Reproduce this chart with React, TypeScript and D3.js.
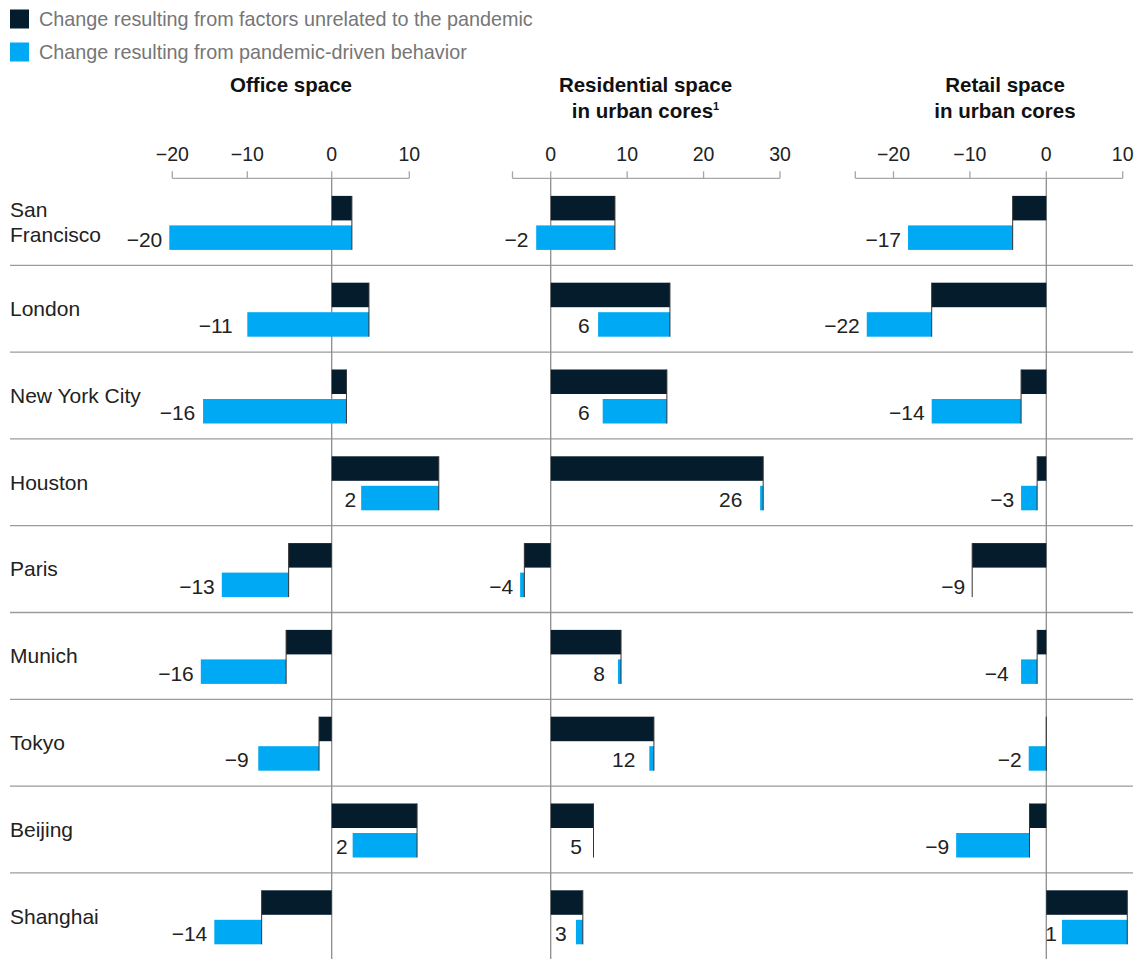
import React from "react";
import * as d3 from "d3";

// ---------- data ----------
const cities = [
  "San Francisco",
  "London",
  "New York City",
  "Houston",
  "Paris",
  "Munich",
  "Tokyo",
  "Beijing",
  "Shanghai",
];
const cityLines = [["San", "Francisco"], ["London"], ["New York City"], ["Houston"], ["Paris"], ["Munich"], ["Tokyo"], ["Beijing"], ["Shanghai"]];

const legendLabels = [
  "Change resulting from factors unrelated to the pandemic",
  "Change resulting from pandemic-driven behavior",
];

// Office space
const officeUnrelated = [2.6, 4.8, 1.9, 13.8, -5.1, -5.4, -1.5, 11.0, -8.3];
const officePandemic = [-23.0, -14.8, -17.8, -10.0, -8.3, -10.8, -7.2, -8.3, -6.1];
const officeLabels = [-20, -11, -16, 2, -13, -16, -9, 2, -14];
const officeTicks = [-20, -10, 0, 10];

// Residential space in urban cores
const residentialUnrelated = [8.4, 15.6, 15.2, 27.8, -3.45, 9.2, 13.5, 5.6, 4.2];
const residentialPandemic = [-10.3, -9.4, -8.4, -0.4, -0.55, -0.4, -0.6, 0, -0.9];
const residentialLabels = [-2, 6, 6, 26, -4, 8, 12, 5, 3];
const residentialTicks = [0, 10, 20, 30];

// Retail space in urban cores
const retailUnrelated = [-4.4, -15.0, -3.3, -1.2, -9.7, -1.2, 0, -2.2, 10.6];
const retailPandemic = [-13.7, -8.5, -11.7, -2.1, 0, -2.1, -2.3, -9.6, -8.55];
const retailLabels = [-17, -22, -14, -3, -9, -4, -2, -9, 1];
const retailTicks = [-20, -10, 0, 10];

// ---------- style ----------
const NAVY = "#051c2c";
const BLUE = "#00a9f4";
const FONT = "'Liberation Sans', Arial, sans-serif";
const W = 1147;
const H = 959;
const LABEL_SIZE = 21;

const fmt = (v: number) => (v < 0 ? "\u2212" + Math.abs(v) : String(v));
const textW = (s: string) => s.length * LABEL_SIZE * 0.556;

type Panel = {
  key: string;
  title: string[];
  sup?: boolean;
  titleX: number;
  scale: d3.ScaleLinear<number, number>;
  ticks: number[];
  unrelated: number[];
  pandemic: number[];
  labels: number[];
};

export default function App() {
  const axisY = 178.3;
  const y = d3
    .scaleBand<string>()
    .domain(cities)
    .range([178.5, 178.5 + 86.8 * cities.length])
    .paddingInner(0)
    .paddingOuter(0);
  const step = y.step();
  const barH = 24.5;
  const gap = 5;
  const off = (step - (barH * 2 + gap)) / 2 + 1;

  const panels: Panel[] = [
    {
      key: "office",
      title: ["Office space"],
      titleX: 291,
      scale: d3.scaleLinear().domain([-20, -10, 0, 10]).range([172.3, 247.3, 331.7, 409.3]),
      ticks: officeTicks,
      unrelated: officeUnrelated,
      pandemic: officePandemic,
      labels: officeLabels,
    },
    {
      key: "residential",
      title: ["Residential space", "in urban cores"],
      sup: true,
      titleX: 645.5,
      scale: d3.scaleLinear().domain([-5, 30]).range([512.5, 780]),
      ticks: residentialTicks,
      unrelated: residentialUnrelated,
      pandemic: residentialPandemic,
      labels: residentialLabels,
    },
    {
      key: "retail",
      title: ["Retail space", "in urban cores"],
      titleX: 1005,
      scale: d3.scaleLinear().domain([-25, 10]).range([855.3, 1122.7]),
      ticks: retailTicks,
      unrelated: retailUnrelated,
      pandemic: retailPandemic,
      labels: retailLabels,
    },
  ];

  return (
    <svg
      width={W}
      height={H}
      style={{ position: "absolute", left: 0, top: 0, background: "#fff" }}
      fontFamily={FONT}
    >
      {/* legend */}
      {legendLabels.map((t, i) => (
        <g key={t}>
          <rect x={10} y={9.5 + i * 33} width={19} height={19} fill={i === 0 ? NAVY : BLUE} />
          <text x={39} y={19 + i * 33} dy="0.35em" fontSize={19.8} fill="#767676">
            {t}
          </text>
        </g>
      ))}

      {/* row separators */}
      {cities.slice(1).map((c) => (
        <line key={c} x1={10} x2={1133} y1={y(c)!} y2={y(c)!} stroke="#9b9b9b" strokeWidth={1.3} />
      ))}

      {/* city labels */}
      {cities.map((c, i) => {
        const cy = y(c)! + step / 2;
        const lines = cityLines[i];
        return (
          <text key={c} x={10} fontSize={21} fill="#222">
            {lines.map((ln, j) => (
              <tspan key={j} x={10} y={cy + (j - (lines.length - 1) / 2) * 25} dy="0.35em">
                {ln}
              </tspan>
            ))}
          </text>
        );
      })}

      {panels.map((p) => {
        const dom = p.scale.domain();
        const d0 = dom[0];
        const d1 = dom[dom.length - 1];
        const x0 = p.scale(0);
        return (
          <g key={p.key}>
            {/* title */}
            <text textAnchor="middle" fontSize={20.5} fontWeight="bold" fill="#111">
              {p.title.map((t, j) => (
                <tspan key={j} x={p.titleX} y={92 + j * 26}>
                  {t}
                  {p.sup && j === p.title.length - 1 ? (
                    <tspan fontSize={11} dy={-8}>1</tspan>
                  ) : null}
                </tspan>
              ))}
            </text>
            {/* axis */}
            <line x1={p.scale(d0)} x2={p.scale(d1)} y1={axisY} y2={axisY} stroke="#a6a6a6" strokeWidth={1.3} />
            {[d0, ...p.ticks.filter((t) => t !== d0 && t !== d1), d1].map((t) => (
              <line key={"t" + t} x1={p.scale(t)} x2={p.scale(t)} y1={axisY - 7} y2={axisY} stroke="#a6a6a6" strokeWidth={1.3} />
            ))}
            {p.ticks.map((t) => (
              <text key={"l" + t} x={p.scale(t)} y={160.5} textAnchor="middle" fontSize={19.5} fill="#222">
                {fmt(t)}
              </text>
            ))}
            {/* zero line */}
            <line x1={x0} x2={x0} y1={axisY} y2={H} stroke="#8c8c8c" strokeWidth={1.3} />
            {/* bars */}
            {cities.map((c, i) => {
              const u = p.unrelated[i];
              const e = u + p.pandemic[i];
              const xu = p.scale(u);
              const xe = p.scale(e);
              const top = y(c)! + off;
              const btop = top + barH + gap;
              const left = Math.min(xu, xe);
              const txt = fmt(p.labels[i]);
              let lx = Math.min(left, p.scale(p.labels[i])) - 7;
              if (p.labels[i] >= 0 && lx - textW(txt) < x0 + 1) lx = left - 5;
              return (
                <g key={c}>
                  {u !== 0 && (
                    <rect x={Math.min(x0, xu)} y={top} width={Math.abs(xu - x0)} height={barH} fill={NAVY} />
                  )}
                  {p.pandemic[i] !== 0 && (
                    <rect x={left} y={btop} width={Math.abs(xe - xu)} height={barH} fill={BLUE} />
                  )}
                  <line x1={xu} x2={xu} y1={top} y2={btop + barH} stroke="#333" strokeWidth={1} />
                  <text x={lx} y={btop + barH / 2 + 1.5} dy="0.35em" textAnchor="end" fontSize={LABEL_SIZE} fill="#222">
                    {txt}
                  </text>
                </g>
              );
            })}
          </g>
        );
      })}
    </svg>
  );
}
